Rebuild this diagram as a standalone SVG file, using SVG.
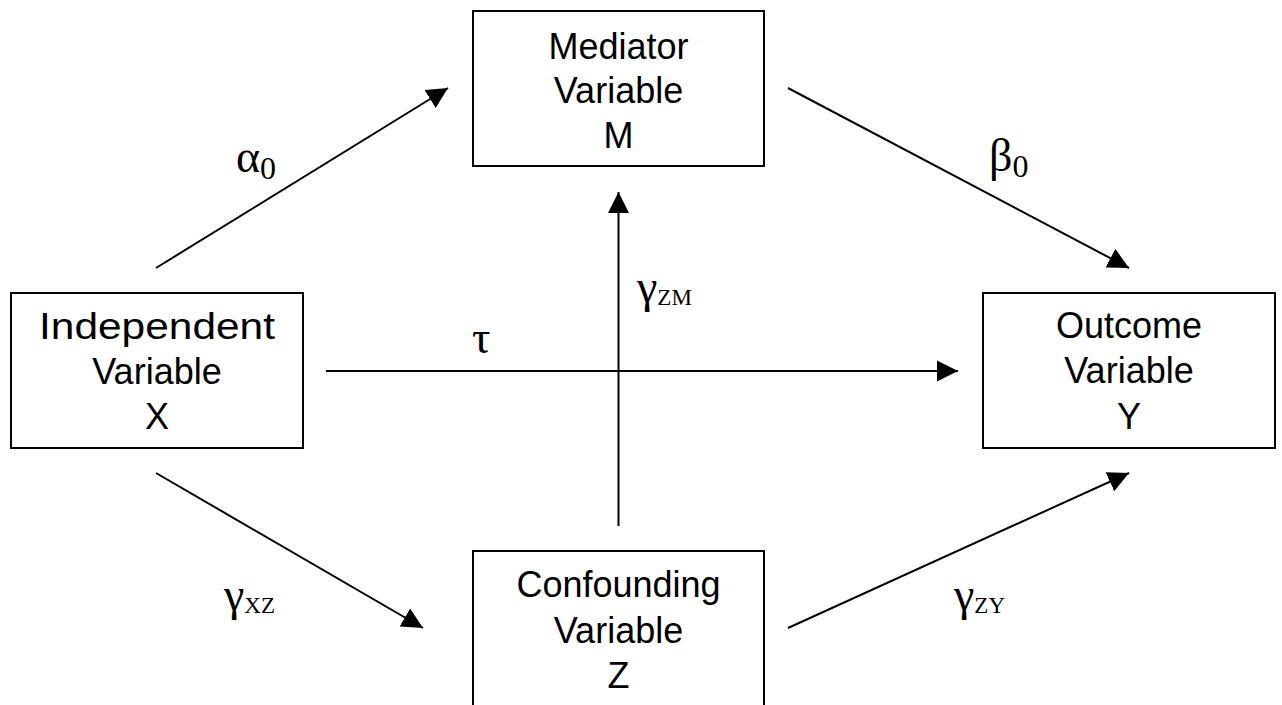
<svg xmlns="http://www.w3.org/2000/svg" width="1282" height="705" viewBox="0 0 1282 705">
<style>
.box{fill:#fff;stroke:#000;stroke-width:2}
.lbl{font-family:"Liberation Sans",Arial,sans-serif;font-size:36px;text-anchor:middle;fill:#000}
.con line{stroke:#000;stroke-width:2;marker-end:url(#ah)}
.g{font-family:"Liberation Serif","Times New Roman",serif;font-size:46px;fill:#000}
.s0{font-size:32px}
.s{font-size:23px}
</style>
<defs>
<marker id="ah" markerUnits="userSpaceOnUse" markerWidth="22" markerHeight="22" refX="21" refY="10.5" orient="auto" viewBox="0 0 22 21">
<path d="M0,0 L21,10.5 L0,21 z" fill="#000"/>
</marker>
</defs>
<rect width="1282" height="705" fill="#fff"/>
<g id="node-M">
<rect class="box" x="473" y="11" width="291" height="155"/>
<text class="lbl" x="618.5" y="59">Mediator</text>
<text class="lbl" x="618.5" y="103">Variable</text>
<text class="lbl" x="618.5" y="148">M</text>
</g>
<g id="node-X">
<rect class="box" x="11" y="293" width="292" height="155"/>
<text class="lbl" x="157" y="339" textLength="236" lengthAdjust="spacingAndGlyphs">Independent</text>
<text class="lbl" x="157" y="384">Variable</text>
<text class="lbl" x="157" y="429">X</text>
</g>
<g id="node-Y">
<rect class="box" x="983" y="293" width="292" height="155"/>
<text class="lbl" x="1129" y="338">Outcome</text>
<text class="lbl" x="1129" y="383">Variable</text>
<text class="lbl" x="1129" y="429">Y</text>
</g>
<g id="node-Z">
<rect class="box" x="473" y="551" width="291" height="160"/>
<text class="lbl" x="618.5" y="597">Confounding</text>
<text class="lbl" x="618.5" y="643">Variable</text>
<text class="lbl" x="618.5" y="688">Z</text>
</g>
<g id="connectors" class="con">
<line x1="156" y1="268" x2="448" y2="88"/>
<line x1="788" y1="88" x2="1129" y2="268"/>
<line x1="326" y1="371" x2="958" y2="371"/>
<line x1="618.5" y1="526" x2="618.5" y2="192"/>
<line x1="156" y1="473" x2="423" y2="628"/>
<line x1="788" y1="628" x2="1129" y2="473"/>
</g>
<g id="labels">
<text class="g" x="236" y="172">α<tspan class="s0" dy="7">0</tspan></text>
<text class="g" x="989" y="171">β<tspan class="s0" dy="6">0</tspan></text>
<text class="g" x="472" y="353">τ</text>
<text class="g" x="637" y="302">γ<tspan class="s" dy="3">ZM</tspan></text>
<text class="g" x="224" y="610">γ<tspan class="s" dy="3">XZ</tspan></text>
<text class="g" x="954" y="610">γ<tspan class="s" dy="3">ZY</tspan></text>
</g>
</svg>
